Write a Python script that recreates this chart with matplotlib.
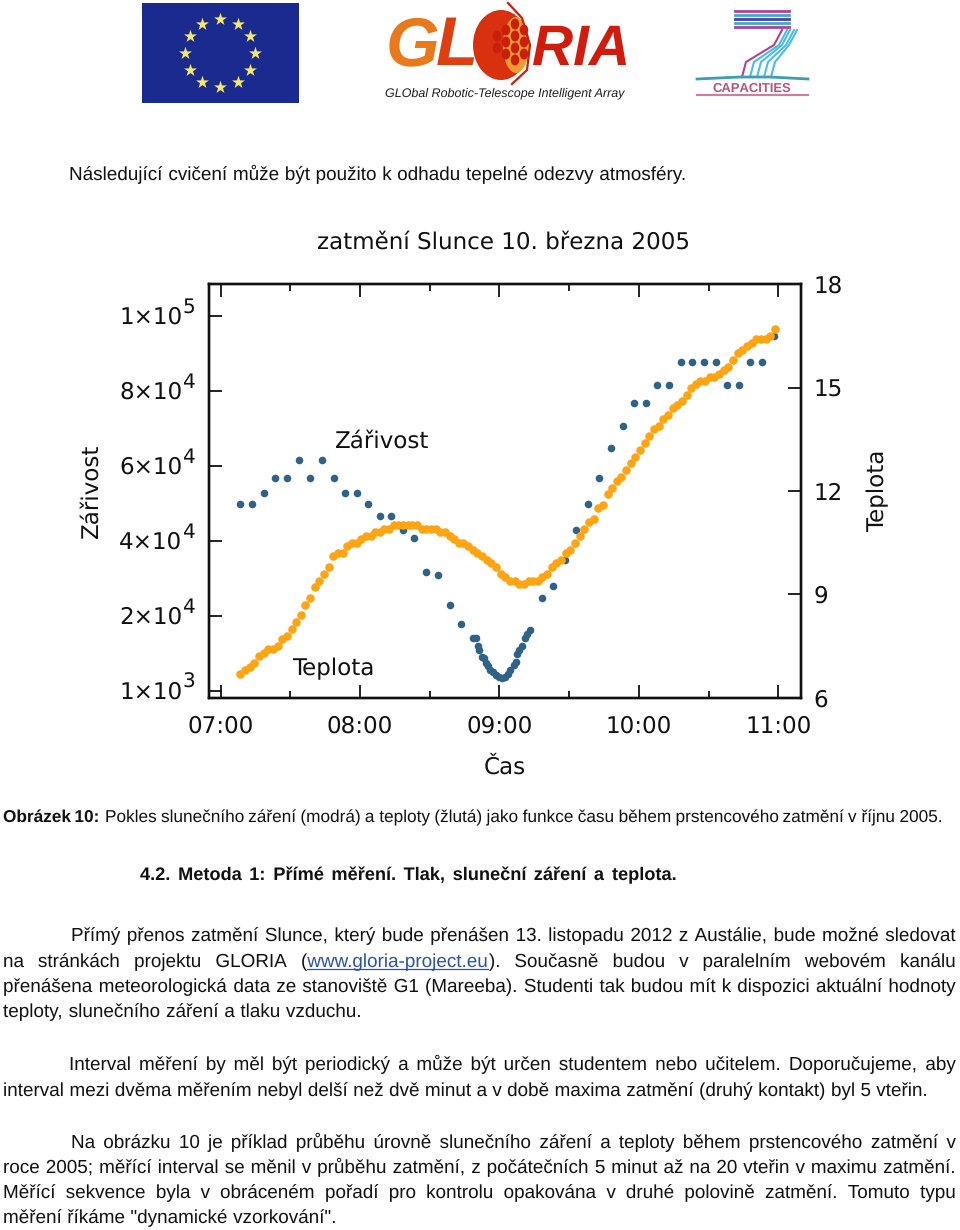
import matplotlib
matplotlib.use("Agg")
import matplotlib.pyplot as plt
import matplotlib.patheffects as pe
from matplotlib.patches import Rectangle, Ellipse
from matplotlib.transforms import blended_transform_factory, offset_copy

plt.rcParams["text.hinting"] = "no_hinting"
plt.rcParams["text.hinting_factor"] = 1

TEMP_MINUTES = [8.5, 10.5, 12.5, 14.5, 16.5, 18.5, 20.5, 22.5, 24.5, 26.5, 28.5, 30.5, 32.5, 34.5, 36.5, 38.5,
                40.5, 42.5, 44.5, 46.5, 48.5, 50.5, 52.5, 54.5, 56.5, 58.5, 60.5, 62.5, 64.5, 66.5, 68.5, 70.5,
                72.5, 74.5, 76.5, 78.5, 80.5, 82.5, 84.5, 86.5, 88.5, 90.5, 92.5, 94.5, 96.5, 98.5, 100.5, 102.5,
                104.5, 106.5, 108.5, 110.5, 112.5, 114.5, 116.5, 118.5, 120.5, 122.5, 124.5, 126.5, 128.5, 130.5,
                132.5, 134.5, 136.5, 138.5, 140.5, 142.5, 144.5, 146.5, 148.5, 150.5, 152.5, 154.5, 156.5, 158.5,
                160.5, 162.5, 164.5, 166.5, 168.5, 170.5, 172.5, 174.5, 176.5, 178.5, 180.5, 182.5, 184.5, 186.5,
                188.5, 190.5, 192.5, 194.5, 196.5, 198.5, 200.5, 202.5, 204.5, 206.5, 208.5, 210.5, 212.5, 214.5,
                216.5, 218.5, 220.5, 222.5, 224.5, 226.5, 228.5, 230.5, 232.5, 234.5, 236.5, 238.5]
TEMPERATURE = [6.7, 6.8, 6.9, 7.0, 7.2, 7.3, 7.4, 7.4, 7.5, 7.7,
               7.8, 8.0, 8.2, 8.4, 8.7, 8.9, 9.2, 9.4, 9.6, 9.8,
               10.1, 10.2, 10.2, 10.4, 10.5, 10.5, 10.6, 10.7, 10.7, 10.8,
               10.8, 10.9, 10.9, 11.0, 11.0, 11.0, 11.0, 11.0, 11.0, 10.9,
               10.9, 10.9, 10.9, 10.8, 10.8, 10.7, 10.6, 10.5, 10.5, 10.4,
               10.3, 10.2, 10.1, 10.0, 9.9, 9.8, 9.6, 9.5, 9.4,
               9.4, 9.3, 9.3, 9.4, 9.4, 9.4, 9.5, 9.6, 9.8, 9.9,
               10.0, 10.2, 10.3, 10.5, 10.7, 10.9, 11.1, 11.2, 11.5, 11.6,
               11.9, 12.1, 12.3, 12.4, 12.6, 12.8, 13.0, 13.2, 13.4, 13.6,
               13.8, 13.9, 14.1, 14.2, 14.4, 14.5, 14.6, 14.8, 15.0, 15.1,
               15.2, 15.2, 15.3, 15.3, 15.4, 15.5, 15.6, 15.8, 16.0, 16.1,
               16.2, 16.3, 16.4, 16.4, 16.4, 16.5, 16.7]

IRR_MINUTES = [8.4, 13.5, 18.6, 23.5, 28.6, 33.6, 38.6, 43.6, 48.7, 53.5, 58.6, 63.6, 68.5, 73.3, 78.5, 83.4,
               88.5, 93.5, 98.5, 103.5, 108.4, 109.8, 110.7, 111.2, 112.4, 113.3, 114.4, 115.1, 116.1, 117.3,
               118.4, 119.6, 121.0, 122.4, 123.6, 124.7, 126.2, 127.2, 127.5, 128.6, 129.9, 130.8, 131.9, 133.2,
               138.1, 143.0, 148.0, 153.0, 158.0, 162.9, 168.1, 173.0, 178.0, 183.0, 188.0, 193.0, 198.0, 202.9,
               208.0, 213.0, 217.9, 222.9, 228.0, 233.0, 238.0]
IRRADIANCE = [49800, 49800, 52800, 56700, 56700, 61700, 56700, 61700, 56700, 52800, 52800, 49800, 46700, 46700,
              42900, 40800, 31800, 30800, 22800, 17900, 14000, 14000, 12000, 10900, 9000, 8700, 7400, 6600, 5600,
              5000, 4300, 3700, 3500, 3700, 4500, 5600, 6800, 7800, 9800, 10900, 12100, 14000, 15200, 16300,
              24900, 27900, 34900, 42900, 49800, 56700, 64700, 70700, 76700, 76700, 81700, 81700, 87600, 87600,
              87600, 87600, 81700, 81700, 87600, 87600, 94700]

HOUR_TICKS = [0, 60, 120, 180, 240]
HOUR_LABELS = ["07:00", "08:00", "09:00", "10:00", "11:00"]
HALF_TICKS = [30, 90, 150, 210]
IRR_TICKS = [0, 20000, 40000, 60000, 80000, 100000]
IRR_MANT = ["1×10", "2×10", "4×10", "6×10", "8×10", "1×10"]
IRR_EXP = ["3", "4", "4", "4", "4", "5"]
TEMP_TICKS = [6, 9, 12, 15, 18]

BLUE = "#2f6288"
ORANGE = "#ffa514"
INK = "#111111"
W, H = 960, 1230

fig = plt.figure(figsize=(W / 100, H / 100), dpi=100, facecolor="white")

# page layer in pixel coordinates
page = fig.add_axes([0, 0, 1, 1], zorder=0)
page.set_xlim(0, W)
page.set_ylim(H, 0)
page.axis("off")
renderer = fig.canvas.get_renderer()
BODY = "Liberation Sans"
SUBPIXEL = [pe.Normal()]


def width(txt, size, weight="normal"):
    t = page.text(0, 0, txt, fontsize=size, family=BODY, weight=weight)
    w = t.get_window_extent(renderer).width
    t.remove()
    return w


def line(words, x0, x1, y, size=13.6, weight="normal"):
    """Draw words between x0 and x1 (justified); a word may be a list of (text, colour, weight) pieces."""
    norm = []
    for w in words:
        norm.append(w if isinstance(w, list) else [(w, "#111111", weight)])
    widths = [sum(width(p[0], size, p[2]) for p in w) for w in norm]
    gap = (x1 - x0 - sum(widths)) / max(1, len(norm) - 1)
    x = x0
    for w, ww in zip(norm, widths):
        for txt, col, wt in w:
            page.text(x, y, txt, fontsize=size, family=BODY, weight=wt, color=col, va="baseline", ha="left",
                      path_effects=SUBPIXEL)
            pw = width(txt, size, wt)
            if col != "#111111":
                page.plot([x, x + pw - 1], [y + 2, y + 2], color=col, lw=0.9)
            x += pw
        x += gap


LINK = "#2a52a8"
line("Následující cvičení může být použito k odhadu tepelné odezvy atmosféry.".split(), 69, 687, 180)
line(["Obrázek", "10:"], 3, 99, 822, size=12.4, weight="bold")
line("Pokles slunečního záření (modrá) a teploty (žlutá) jako funkce času během prstencového zatmění v říjnu 2005.".split(),
     105, 942, 822, size=12.4)
line("4.2. Metoda 1: Přímé měření. Tlak, sluneční záření a teplota.".split(), 140, 676, 880, size=13.1, weight="bold")
line("Přímý přenos zatmění Slunce, který bude přenášen 13. listopadu 2012 z Austálie, bude možné sledovat".split(), 71, 956, 941)
line("na stránkách projektu GLORIA".split()
     + [[("(", "#111111", "normal"), ("www.gloria-project.eu", LINK, "normal"), (").", "#111111", "normal")]]
     + "Současně budou v paralelním webovém kanálu".split(), 3, 956, 967)
line("přenášena meteorologická data ze stanoviště G1 (Mareeba). Studenti tak budou mít k dispozici aktuální hodnoty".split(), 3, 956, 992)
line("teploty, slunečního záření a tlaku vzduchu.".split(), 3, 362, 1017)
line("Interval měření by měl být periodický a může být určen studentem nebo učitelem. Doporučujeme, aby".split(), 69, 956, 1070)
line("interval mezi dvěma měřením nebyl delší než dvě minut a v době maxima zatmění (druhý kontakt) byl 5 vteřin.".split(), 3, 928, 1096)
line("Na obrázku 10 je příklad průběhu úrovně slunečního záření a teploty během prstencového zatmění v".split(), 71, 956, 1148)
line("roce 2005; měřící interval se měnil v průběhu zatmění, z počátečních 5 minut až na 20 vteřin v maximu zatmění.".split(), 3, 956, 1173)
line("Měřící sekvence byla v obráceném pořadí pro kontrolu opakována v druhé polovině zatmění. Tomuto typu".split(), 3, 956, 1198)
line('měření říkáme "dynamické vzorkování".'.split(), 3, 337, 1223)

# EU flag
page.add_patch(Rectangle((142, 3), 157, 100, color="#1b2a8e", lw=0))
STAR_X = [220, 238, 250, 255, 250, 238, 220, 202, 190, 185, 190, 202]
STAR_Y = [19, 24, 36, 53, 70, 82, 87, 82, 70, 53, 36, 24]
page.scatter(STAR_X, STAR_Y, marker="*", s=95, color="#f4e96c", linewidths=0)

# GLORIA logo
page.text(386, 65, "G", fontsize=50, family=BODY, weight="bold", style="italic", color="#e97a1c", va="baseline")
page.text(436, 65, "L", fontsize=50, family=BODY, weight="bold", style="italic", color="#de3f10", va="baseline")
page.add_patch(Ellipse((501, 45), 56, 70, color="#d9300f", lw=0, zorder=3))
page.add_patch(Ellipse((516, 45), 26, 56, color="#f29a2e", lw=0, zorder=3))
for cx, cy in [(497, 36), (497, 48), (506, 30), (506, 42), (506, 54), (515, 24), (515, 36),
               (515, 48), (515, 60), (524, 30), (524, 42), (524, 54)]:
    page.add_patch(Ellipse((cx, cy), 8.5, 11, color="#c8200c", lw=0, zorder=4))
page.plot([508, 522, 530, 527, 512], [3, 18, 45, 70, 84], color="#c8200c", lw=1.6, zorder=4)
page.text(532, 65, "RIA", fontsize=41, family=BODY, weight="bold", style="italic", color="#cf1c0c", va="baseline")
page.text(385, 97, "GLObal Robotic-Telescope Intelligent Array", fontsize=9.0, family=BODY, style="italic",
          color="#22201e", va="baseline", path_effects=SUBPIXEL)

# FP7 Capacities logo
for yy, col in [(11, "#b0409a"), (15, "#3fa8d8"), (19, "#4a3f9e"), (23, "#3fa8d8"), (27, "#b0409a")]:
    page.plot([735, 789], [yy, yy], color=col, lw=2)
for xt, xb, col in [(782, 742, "#b0409a"), (787, 750, "#4cbde0"), (790, 757, "#4cbde0"), (794, 764, "#4cbde0"),
                    (797, 771, "#4cbde0")]:
    page.plot([xt, xt - 8, xb + 4, xb], [30, 45, 62, 77], color=col, lw=1.5)
page.plot([697, 740, 770, 808], [79, 77, 77, 79], color="#3b9fb0", lw=2)
page.plot([697, 808], [95, 95], color="#d47aa0", lw=1.5)
page.text(752, 92, "CAPACITIES", fontsize=9.4, family=BODY, weight="bold", color="#b8557f", ha="center", va="baseline")

# chart
L, R, T, B = 209.3, 801.3, 284.3, 697.7
ax = fig.add_axes([L / W, 1 - B / H, (R - L) / W, (B - T) / H], zorder=2)
ax.set_xlim(-4.9, 249.9)
ax.set_ylim(-1787, 108453)
ax.scatter(IRR_MINUTES, IRRADIANCE, s=30, color=BLUE, linewidths=0, zorder=2)
ax.set_xticks(HOUR_TICKS, HOUR_LABELS)
ax.set_xticks(HALF_TICKS, minor=True)
ax.set_yticks(IRR_TICKS, [""] * len(IRR_TICKS))
ax.tick_params(axis="x", which="major", direction="in", top=True, length=9.4, width=1.3, labelsize=16.8,
               pad=12.5, labelcolor=INK, color=INK)
ax.tick_params(axis="x", which="minor", direction="in", top=True, length=5, width=1.3, color=INK)
ax.tick_params(axis="y", direction="in", left=True, right=False, length=9.4, width=1.3, color=INK)
for s in ax.spines.values():
    s.set_linewidth(1.7)
    s.set_color(INK)

trans = blended_transform_factory(ax.transAxes, ax.transData)
mant_tr = offset_copy(trans, fig=fig, x=-27, y=-8, units="dots")
exp_tr = offset_copy(trans, fig=fig, x=-27, y=3, units="dots")
for v, m, e in zip(IRR_TICKS, IRR_MANT, IRR_EXP):
    ax.text(0, v, m, transform=mant_tr, ha="right", va="baseline", fontsize=16.8, color=INK)
    ax.text(0, v, e, transform=exp_tr, ha="left", va="baseline", fontsize=14.3, color=INK)

ax2 = ax.twinx()
ax2.set_ylim(6, 18)
ax2.scatter(TEMP_MINUTES, TEMPERATURE, s=38, color=ORANGE, linewidths=0, zorder=3)
ax2.set_yticks(TEMP_TICKS)
ax2.tick_params(axis="y", direction="in", length=9.4, width=1.3, labelsize=16.8, pad=8.5, labelcolor=INK, color=INK)
for s in ax2.spines.values():
    s.set_linewidth(1.7)
    s.set_color(INK)

LABEL = 16.4
page.text(504, 242, "zatmění Slunce 10. března 2005", fontsize=16.5, ha="center", va="center", color=INK)
page.text(505, 767, "Čas", fontsize=LABEL, ha="center", va="center", color=INK)
page.text(91, 491, "Zářivost", fontsize=LABEL, rotation=90, ha="center", va="center", color=INK)
page.text(878, 491, "Teplota", fontsize=LABEL, rotation=90, ha="center", va="center", color=INK)
fig.text(335 / W, 1 - 441 / H, "Zářivost", fontsize=LABEL, ha="left", va="center", color=INK, zorder=5)
fig.text(292 / W, 1 - 669 / H, "Teplota", fontsize=LABEL, ha="left", va="center", color=INK, zorder=5)

fig.savefig("out.png", dpi=100, facecolor="white")
